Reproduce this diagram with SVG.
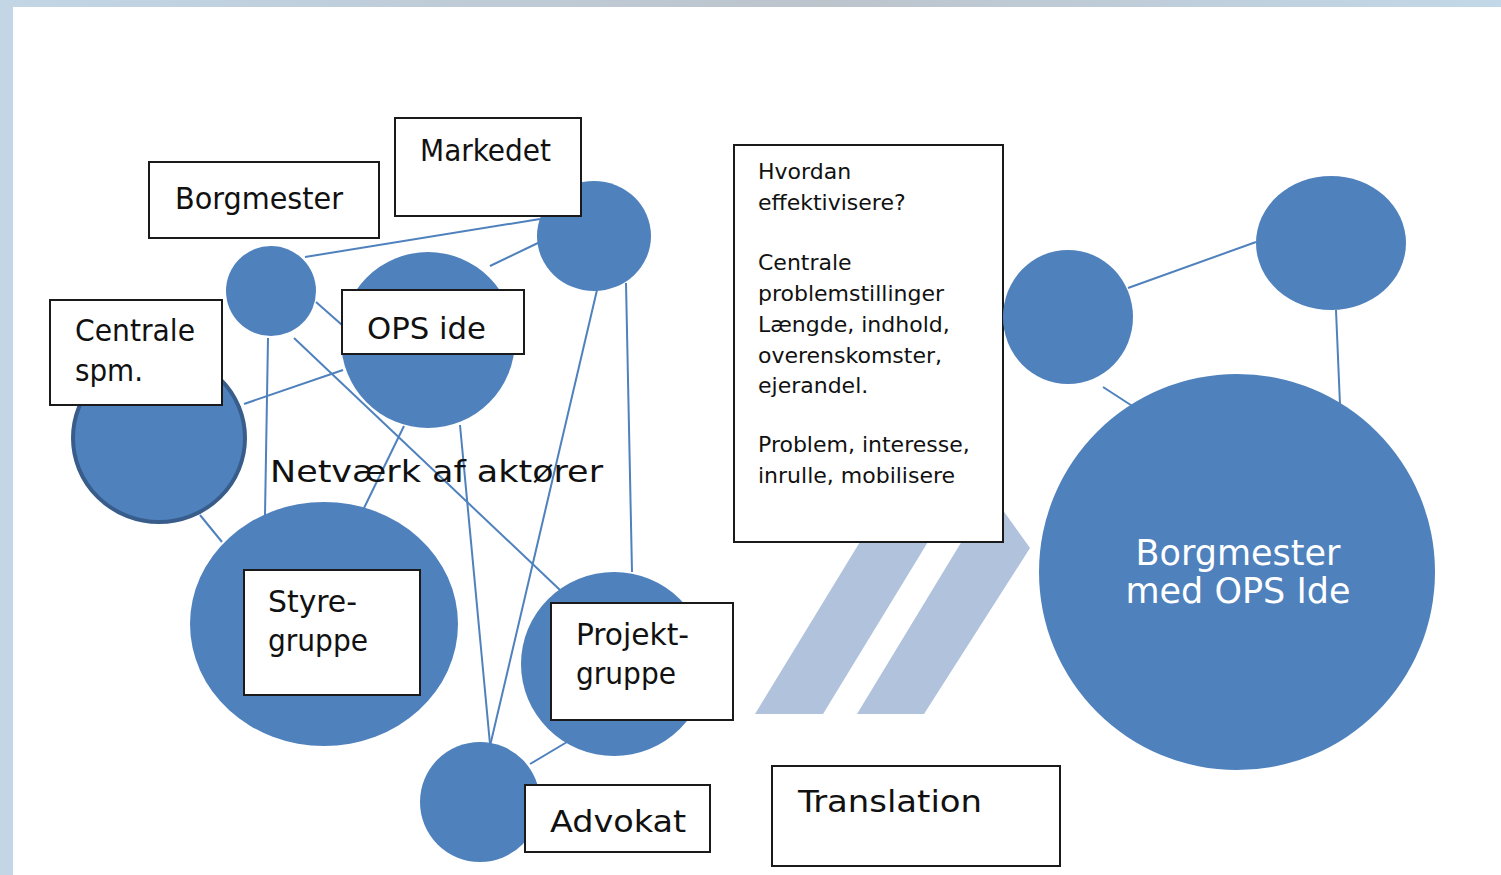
<svg xmlns="http://www.w3.org/2000/svg" width="1501" height="875" viewBox="0 0 1501 875">
<defs>
<linearGradient id="topband" x1="0" y1="0" x2="1" y2="0">
<stop offset="0" stop-color="#c2d6e6"/>
<stop offset="0.55" stop-color="#bcc4cc"/>
<stop offset="1" stop-color="#c2d8e8"/>
</linearGradient>
<style>
.c{fill:#4f81bd}
.b{fill:#fff;stroke:#1a1a1a;stroke-width:2}
.l{stroke:#4f81bd;stroke-width:2;fill:none}
.t{font-family:"DejaVu Sans Condensed","DejaVu Sans",sans-serif;font-size:31px;fill:#111}
.s{font-family:"DejaVu Sans",Verdana,sans-serif;font-size:22px;fill:#111}
.w{font-family:"DejaVu Sans",Verdana,sans-serif;font-size:35px;fill:#fff;text-anchor:middle}
.ch{fill:#b0c2dc}
</style>
</defs>
<rect width="1501" height="875" fill="#fff"/>
<rect width="1501" height="7" fill="url(#topband)"/>
<rect y="0" width="13" height="875" fill="#c2d6e6"/>

<g id="connectors">
<line class="l" x1="305" y1="257" x2="540" y2="219"/>
<line class="l" x1="490" y1="266" x2="540" y2="242"/>
<line class="l" x1="316" y1="302" x2="342" y2="325"/>
<line class="l" x1="244" y1="404" x2="343" y2="370"/>
<line class="l" x1="268" y1="338" x2="265" y2="515"/>
<line class="l" x1="294" y1="338" x2="560" y2="590"/>
<line class="l" x1="404" y1="426" x2="364" y2="508"/>
<line class="l" x1="460" y1="425" x2="490" y2="744"/>
<line class="l" x1="597" y1="290" x2="490" y2="746"/>
<line class="l" x1="626" y1="283" x2="632" y2="572"/>
<line class="l" x1="200" y1="515" x2="222" y2="542"/>
<line class="l" x1="530" y1="764" x2="567" y2="742"/>
<line class="l" x1="1128" y1="288" x2="1256" y2="242"/>
<line class="l" x1="1336" y1="310" x2="1340" y2="405"/>
<line class="l" x1="1103" y1="387" x2="1157" y2="422"/>
</g>

<g id="chevrons">
<polygon class="ch" points="755,714 823,714 934,532 866,532"/>
<polygon class="ch" points="857,714 924,714 1030,548 985,485 920,485 962,541"/>
</g>

<g id="node-markedet">
<ellipse class="c" cx="594" cy="236" rx="57" ry="55"/>
<rect class="b" x="395" y="118" width="186" height="98"/>
<text class="t" x="420" y="161" textLength="131" lengthAdjust="spacingAndGlyphs">Markedet</text>
</g>
<g id="node-borgmester">
<ellipse class="c" cx="271" cy="291" rx="45" ry="45"/>
<rect class="b" x="149" y="162" width="230" height="76"/>
<text class="t" x="175" y="209" textLength="168" lengthAdjust="spacingAndGlyphs">Borgmester</text>
</g>
<g id="node-ops">
<ellipse class="c" cx="428" cy="340" rx="87" ry="88"/>
<rect class="b" x="342" y="290" width="182" height="64"/>
<text class="t" x="367" y="339" textLength="119" lengthAdjust="spacingAndGlyphs">OPS ide</text>
</g>
<g id="node-centrale">
<ellipse cx="159" cy="438" rx="86" ry="84" fill="#4f81bd" stroke="#385d8a" stroke-width="4"/>
<rect class="b" x="50" y="300" width="172" height="105"/>
<text class="t" x="75" y="341" textLength="120" lengthAdjust="spacingAndGlyphs">Centrale</text>
<text class="t" x="75" y="381" textLength="68" lengthAdjust="spacingAndGlyphs">spm.</text>
</g>
<g id="node-styregruppe">
<ellipse class="c" cx="324" cy="624" rx="134" ry="122"/>
<rect class="b" x="244" y="570" width="176" height="125"/>
<text class="t" x="268" y="612" textLength="89" lengthAdjust="spacingAndGlyphs">Styre-</text>
<text class="t" x="268" y="651" textLength="100" lengthAdjust="spacingAndGlyphs">gruppe</text>
</g>
<g id="node-projektgruppe">
<ellipse class="c" cx="614" cy="664" rx="93" ry="92"/>
<rect class="b" x="551" y="603" width="182" height="117"/>
<text class="t" x="576" y="645" textLength="113" lengthAdjust="spacingAndGlyphs">Projekt-</text>
<text class="t" x="576" y="684" textLength="100" lengthAdjust="spacingAndGlyphs">gruppe</text>
</g>
<g id="node-advokat">
<ellipse class="c" cx="480" cy="802" rx="60" ry="60"/>
<rect class="b" x="525" y="785" width="185" height="67"/>
<text class="t" x="550" y="832" textLength="136" lengthAdjust="spacingAndGlyphs">Advokat</text>
</g>
<g id="label-netvaerk">
<text class="t" x="270" y="482" textLength="333" lengthAdjust="spacingAndGlyphs">Netværk af aktører</text>
</g>

<g id="node-questions">
<rect class="b" x="734" y="145" width="269" height="397"/>
<text class="s" x="758" y="179">Hvordan</text>
<text class="s" x="758" y="210">effektivisere?</text>
<text class="s" x="758" y="270">Centrale</text>
<text class="s" x="758" y="301">problemstillinger</text>
<text class="s" x="758" y="332">Længde, indhold,</text>
<text class="s" x="758" y="363">overenskomster,</text>
<text class="s" x="758" y="393">ejerandel.</text>
<text class="s" x="758" y="452">Problem, interesse,</text>
<text class="s" x="758" y="483">inrulle, mobilisere</text>
</g>

<g id="node-translation">
<rect class="b" x="772" y="766" width="288" height="100"/>
<text class="t" x="798" y="812" textLength="184" lengthAdjust="spacingAndGlyphs">Translation</text>
</g>

<g id="node-right-small1">
<ellipse class="c" cx="1068" cy="317" rx="65" ry="67"/>
</g>
<g id="node-right-small2">
<ellipse class="c" cx="1331" cy="243" rx="75" ry="67"/>
</g>
<g id="node-borgmester-ops">
<ellipse class="c" cx="1237" cy="572" rx="198" ry="198"/>
<text class="w" x="1238" y="565">Borgmester</text>
<text class="w" x="1238" y="603">med OPS Ide</text>
</g>
</svg>
